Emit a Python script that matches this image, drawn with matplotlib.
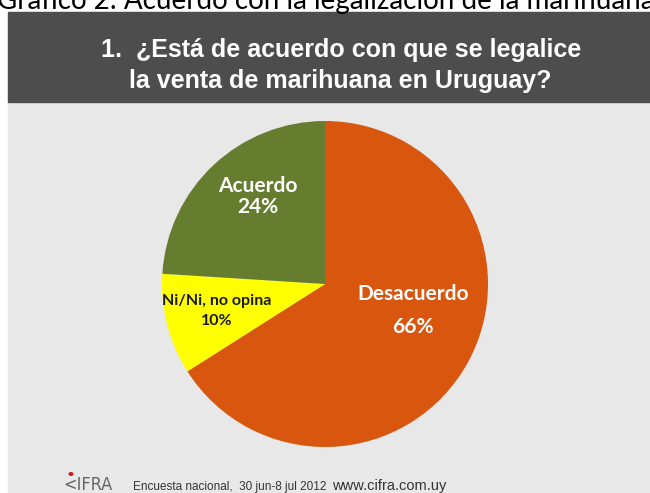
import matplotlib.pyplot as plt
from matplotlib.patches import Rectangle, Circle

# survey results
categories = ["Desacuerdo", "Ni/Ni, no opina", "Acuerdo"]
shares = [66, 10, 24]
colors = ["#d9560e", "#ffff00", "#667d2f"]
text_colors = ["white", "#1a1a1a", "white"]

caption = "Gráfico 2: Acuerdo con la legalización de la marihuana"
title_lines = ["1.  ¿Está de acuerdo con que se legalice",
               "la venta de marihuana en Uruguay?"]
source = "Encuesta nacional,  30 jun-8 jul 2012"
site = "www.cifra.com.uy"

W, H = 650, 493
fig = plt.figure(figsize=(W / 100, H / 100), dpi=100)
fig.patch.set_facecolor("white")


def px(x, y):
    return x / W, 1 - y / H


# slide background and header band
fig.patches.append(Rectangle(px(8, 493), (W - 8) / W, 481 / H,
                             transform=fig.transFigure, color="#e8e8e8", zorder=-2))
fig.patches.append(Rectangle(px(8, 102), (W - 8) / W, 90 / H,
                             transform=fig.transFigure, color="#4d4d4d", zorder=-1))

fig.text(*px(-3, 9), caption, fontsize=20, family="Lato", color="black",
         ha="left", va="baseline")
fig.text(*px(341, 57), title_lines[0], fontsize=18, family="Liberation Sans",
         weight="bold", color="white", ha="center", va="baseline")
fig.text(*px(340, 88), title_lines[1], fontsize=18, family="Liberation Sans",
         weight="bold", color="white", ha="center", va="baseline")

# pie
cx, cy, r = 325, 284, 163
ax = fig.add_axes([(cx - r) / W, (H - cy - r) / H, 2 * r / W, 2 * r / H])
ax.set_zorder(2)
wedges, _ = ax.pie(shares, colors=colors, startangle=90, counterclock=False,
                   radius=1, wedgeprops=dict(linewidth=0))
ax.set_xlim(-1, 1)
ax.set_ylim(-1, 1)
ax.set_aspect("equal")
ax.axis("off")

# x, baseline of name, baseline of value, font size
label_pos = {"Desacuerdo": (413, 300, 333, 15),
             "Ni/Ni, no opina": (217, 305, 325, 11.5),
             "Acuerdo": (258, 192, 213, 15)}
for cat, val, tc in zip(categories, shares, text_colors):
    x, y1, y2, fs = label_pos[cat]
    fig.text(*px(x, y1), cat, fontsize=fs, family="Lato", weight="bold",
             color=tc, ha="center", va="baseline", zorder=5)
    fig.text(*px(x, y2), f"{val}%", fontsize=fs, family="Lato", weight="bold",
             color=tc, ha="center", va="baseline", zorder=5)

# footer
fig.text(*px(88, 490), "<IFRA", fontsize=13, family="DejaVu Sans", color="#666666",
         ha="center", va="baseline", stretch="condensed")
fig.patches.append(Circle(px(71, 474), 1.8 / W, transform=fig.transFigure,
                          color="#cc2222", zorder=3))
fig.text(*px(133, 490), source, fontsize=8.5, family="Liberation Sans",
         color="#333333", ha="left", va="baseline")
fig.text(*px(332, 490), site, fontsize=10.5, family="Liberation Sans",
         color="#333333", ha="left", va="baseline")

fig.savefig("out.png", dpi=100)
